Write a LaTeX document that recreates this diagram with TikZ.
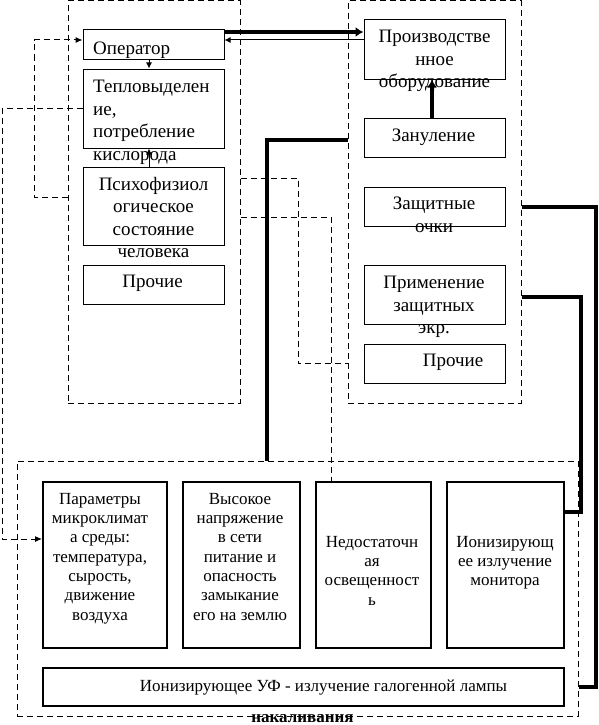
\documentclass[tikz,border=0pt]{standalone}
\usepackage{fontspec}
\setmainfont{Liberation Serif}
\usetikzlibrary{arrows.meta}
\tikzset{
  box/.style={draw, line width=1pt, inner sep=0pt, minimum width=141pt},
  hazard/.style={draw, line width=2pt, inner sep=0pt, minimum height=166pt},
  zone/.style={draw, line width=1pt, dash pattern=on 6pt off 4pt, inner sep=0pt},
  toptext/.style={inner sep=0pt, anchor=north, align=center, font=\fontsize{19}{22.5}\selectfont},
  lowtext/.style={inner sep=0pt, anchor=north, align=center, font=\fontsize{17}{19.3}\selectfont},
  lightarrow/.style={line width=1pt, -{Latex[length=6pt,width=6pt]}},
  heavyarrow/.style={line width=4pt, -{Latex[length=8pt,width=10pt]}},
  heavyline/.style={line width=4pt},
  dashline/.style={line width=1pt, dash pattern=on 6pt off 4pt},
  dasharrow/.style={dashline, -{Latex[length=7pt,width=6pt]}}
}
\begin{document}
\begin{tikzpicture}[x=1pt, y=-1pt]
  \useasboundingbox (0,0) rectangle (598,725);
  \draw
    (154,202) node[zone, minimum width=172pt, minimum height=402pt] (lpanel) {}
    (434.5,202) node[zone, minimum width=173pt, minimum height=402pt] (rpanel) {}
    (297.5,588.5) node[zone, minimum width=561pt, minimum height=255pt] (bpanel) {};
  \draw
    (153.5,45) node[box, minimum height=30pt] (oper) {}
    (153.5,108.5) node[box, minimum height=79pt] (heat) {}
    (153.5,206) node[box, minimum height=78pt] (psy) {}
    (153.5,284.5) node[box, minimum height=39pt] (otherL) {};
  \draw
    (434.5,49.5) node[box, minimum height=59pt] (equip) {}
    (434.5,137.5) node[box, minimum height=39pt] (earth) {}
    (434.5,206.5) node[box, minimum height=39pt] (goggles) {}
    (434.5,294.5) node[box, minimum height=59pt] (screens) {}
    (434.5,363.5) node[box, minimum height=39pt] (otherR) {};
  \draw
    (105,565) node[hazard, minimum width=124pt] (climate) {}
    (241.5,565) node[hazard, minimum width=117pt] (voltage) {}
    (373.5,565) node[hazard, minimum width=115pt] (light) {}
    (505.5,565) node[hazard, minimum width=117pt] (ionmon) {}
    (303.5,687) node[hazard, minimum width=521pt, minimum height=38pt] (lamp) {};
  \draw
    (93,42) node[toptext, anchor=north west] (operT) {Оператор}
    (93,80) node[toptext, anchor=north west, align=left] (heatT) {Тепловыделен\\ие,\\потребление\\кислорода}
    (153.5,177) node[toptext] (psyT) {Психофизиол\\огическое\\состояние\\человека}
    (152.5,275) node[toptext] (otherLT) {Прочие}
    (434.5,30) node[toptext] (equipT) {Производстве\\нное\\оборудование}
    (433.5,129) node[toptext] (earthT) {Зануление}
    (434,197) node[toptext] (gogglesT) {Защитные\\очки}
    (434,276) node[toptext] (screensT) {Применение\\защитных\\экр.}
    (453,354) node[toptext] (otherRT) {Прочие};
  \draw
    (100,493) node[lowtext] (climateT) {Параметры\\микроклимат\\а среды:\\температура,\\сырость,\\движение\\воздуха}
    (240,493) node[lowtext] (voltageT) {Высокое\\напряжение\\в сети\\питание и\\опасность\\замыкание\\его на землю}
    (372,536) node[lowtext] (lightT) {Недостаточн\\ая\\освещенност\\ь}
    (505,536) node[lowtext] (ionmonT) {Ионизирующ\\ее излучение\\монитора}
    (323.5,680) node[lowtext] (lampT) {Ионизирующее УФ - излучение галогенной лампы}
    (302.5,714) node[lowtext, font=\fontsize{17}{19.3}\selectfont\bfseries] (lampT2) {накаливания};
  \coordinate (operin) at ([yshift=5pt]oper.west);
  \coordinate (operloop) at (34,197);
  \coordinate (heatloop) at (2,539);
  \coordinate (psybend) at (298,178);
  \coordinate (lightbend) at (331,217);
  \coordinate (earthbend) at (267,140);
  \coordinate (gogglesx) at (596,0);
  \coordinate (screensbend) at (581,512);
  \begin{scope}
    \draw[heavyarrow] ([yshift=13pt]oper.east) -- ([yshift=13pt]oper.east -| equip.west);
    \draw[lightarrow] ([yshift=9.5pt]equip.west) -- ([yshift=9.5pt]equip.west -| oper.east);
    \draw[lightarrow] ([xshift=-4.5pt]oper.south) -- ([xshift=-4.5pt]heat.north);
    \draw[lightarrow] ([xshift=-4.5pt]psy.north) -- ([xshift=-4.5pt]heat.south);
    \draw[heavyarrow] ([xshift=-2.5pt]earth.north) -- ([xshift=-2.5pt]equip.south);
    \draw[heavyline] (earthbend -| rpanel.west) -- (earthbend) -- (earthbend |- bpanel.north);
    \draw[heavyline] (goggles.east -| rpanel.east) -- (goggles.east -| gogglesx) -- (lamp.east -| gogglesx) -- (lamp.east -| bpanel.east);
    \draw[heavyline] ([yshift=-2pt]screens.east -| rpanel.east) -- ([yshift=-2pt]screens.east -| screensbend) -- (screensbend) -- (screensbend -| ionmon.east);
    \draw[dasharrow] (operloop -| lpanel.west) -- (operloop) -- (operloop |- operin) -- (operin);
    \draw[dasharrow] (heat.west) -- (heat.west -| heatloop) -- (heatloop) -- (heatloop -| climate.west);
    \draw[dashline] (psybend -| lpanel.east) -- (psybend) -- (psybend |- otherR.west) -- (otherR.west -| rpanel.west);
    \draw[dashline] (lightbend -| lpanel.east) -- (lightbend) -- (lightbend |- light.north);
  \end{scope}
\end{tikzpicture}
\end{document}
